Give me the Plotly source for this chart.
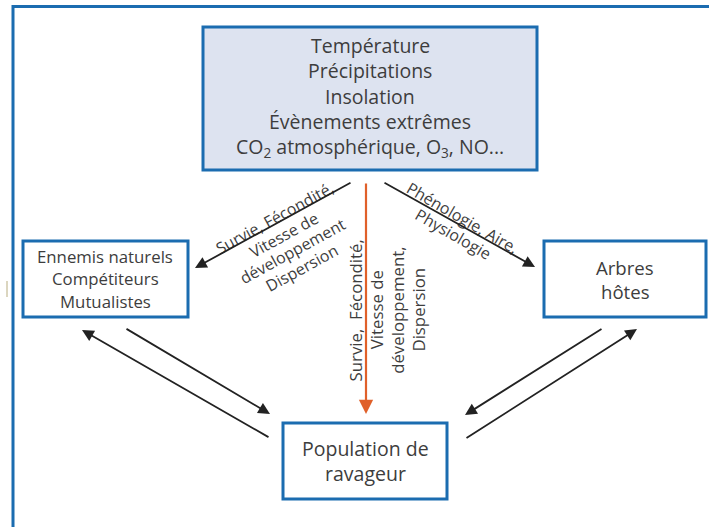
import math
import plotly.graph_objects as go

W, H = 709, 527

# ---- text content ----
climate_lines = ["Température", "Précipitations", "Insolation", "Évènements extrêmes",
                 "CO<sub>2</sub> atmosphérique, O<sub>3</sub>, NO..."]
enemies_lines = ["Ennemis naturels", "Compétiteurs", "Mutualistes"]
trees_lines = ["Arbres", "hôtes"]
pest_lines = ["Population de", "ravageur"]
left_label = ["Survie, Fécondité,", "Vitesse de", "développement", "Dispersion"]
right_label = ["Phénologie, Aire,", "Physiologie"]
mid_label = ["Survie,  Fécondité,", "Vitesse de", "développement,", "Dispersion"]

# ---- layout geometry (pixels, y downward) ----
boxes = {
    "climate": dict(x0=203, y0=27, x1=537, y1=170, fill="#dde3f0"),
    "enemies": dict(x0=23, y0=241, x1=188, y1=317, fill="white"),
    "trees": dict(x0=544, y0=241, x1=706, y1=317, fill="white"),
    "pest": dict(x0=283, y0=423, x1=447, y1=499, fill="white"),
}
BLUE = "#1b6cb0"
TXT = "#3d3d3d"
ORANGE = "#e0602a"
FONT = "Open Sans"

fig = go.Figure()
shapes = []
ann = []

# outer frame
shapes.append(dict(type="line", x0=13, y0=6.5, x1=W + 5, y1=6.5, line=dict(color=BLUE, width=3)))
shapes.append(dict(type="line", x0=13, y0=5, x1=13, y1=H + 5, line=dict(color=BLUE, width=3)))
shapes.append(dict(type="line", x0=7, y0=281, x1=7, y1=297, line=dict(color="#b8ad80", width=1)))

for b in boxes.values():
    shapes.append(dict(type="rect", x0=b["x0"], y0=b["y0"], x1=b["x1"], y1=b["y1"],
                       fillcolor=b["fill"], line=dict(color=BLUE, width=3), layer="below"))

def text_block(lines, cx, y_first, step, size):
    for i, t in enumerate(lines):
        ann.append(dict(x=cx, y=y_first + i * step, text=t, showarrow=False,
                        font=dict(family=FONT, size=size, color=TXT), borderpad=0,
                        xanchor="center", yanchor="middle"))

text_block(climate_lines, 370, 45, 25.6, 19.5)
text_block(enemies_lines, 105, 256, 22.5, 16.8)
text_block(trees_lines, 625, 267, 24.5, 18.6)
text_block(pest_lines, 365, 448, 25, 19.5)

def rotated(lines, cx, cy, angle, size, spacing):
    th = math.radians(angle)
    dx, dy = -math.sin(th), math.cos(th)  # "down" direction of rotated text
    n = len(lines)
    for i, t in enumerate(lines):
        k = (i - (n - 1) / 2) * spacing
        ann.append(dict(x=cx + k * dx, y=cy + k * dy, text=t, showarrow=False, textangle=angle,
                        font=dict(family=FONT, size=size, color=TXT), borderpad=0,
                        xanchor="center", yanchor="middle"))

rotated(left_label, 288, 243, -28.7, 16, 19)
rotated(right_label, 458, 226, 30, 16, 19.5)
rotated(mid_label, 386.5, 310, -90, 16.8, 20.7)

def arrow(x_tail, y_tail, x_head, y_head, color="#222222", width=1.8):
    ann.append(dict(x=x_head, y=y_head, ax=x_tail, ay=y_tail, xref="x", yref="y",
                    axref="x", ayref="y", text="", showarrow=True, arrowhead=2,
                    arrowsize=1.3, arrowwidth=width, arrowcolor=color, standoff=0, startstandoff=0))

arrow(352, 182, 195, 268)
arrow(383, 182, 535, 267)
arrow(366, 182, 366, 414, color=ORANGE, width=2.2)
arrow(270, 438, 82, 330)
arrow(125, 328, 270, 414)
arrow(603, 328, 465, 415)
arrow(465, 439, 637, 329)

fig.update_layout(
    width=W, height=H, margin=dict(l=0, r=0, t=0, b=0),
    paper_bgcolor="white", plot_bgcolor="white",
    xaxis=dict(range=[0, W], visible=False, fixedrange=True),
    yaxis=dict(range=[H, 0], visible=False, fixedrange=True),
    shapes=shapes, annotations=ann, showlegend=False,
)
fig.write_html("out.html", config={"displayModeBar": False},
               post_script="document.body.style.margin='0px';document.body.style.overflow='hidden';")
